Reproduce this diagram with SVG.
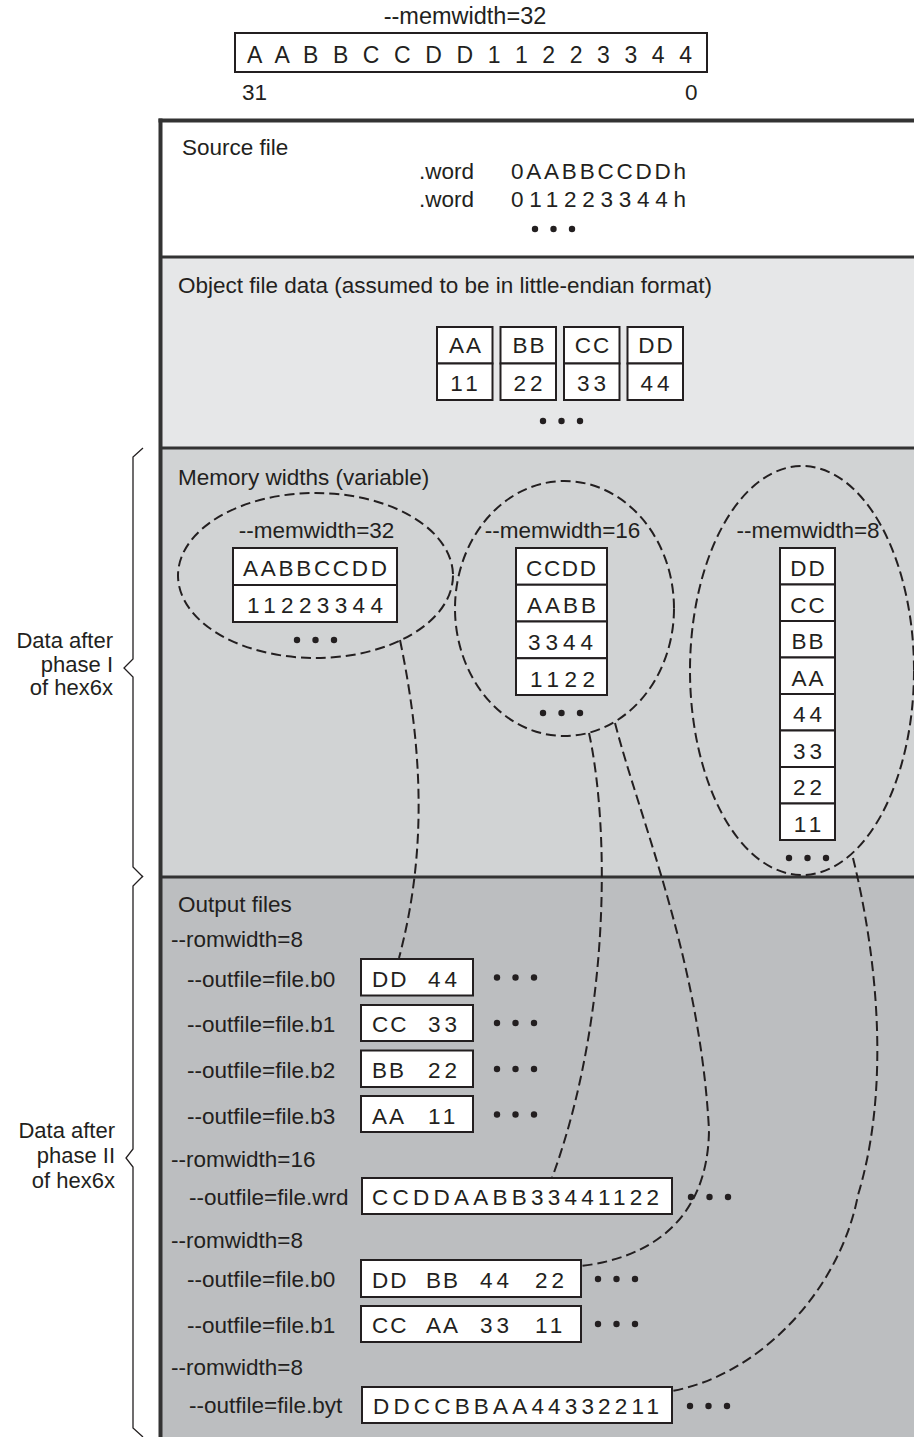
<svg xmlns="http://www.w3.org/2000/svg" xmlns:xlink="http://www.w3.org/1999/xlink" width="914" height="1437" viewBox="0 0 914 1437">
<style>
text { font-family: "Liberation Sans", Arial, Helvetica, sans-serif; fill: #231f20; font-size: 22.5px; }
.mid { text-anchor: middle; }
.end { text-anchor: end; }
.lb { font-size: 22px; }
.ls { letter-spacing: 2px; }
.dg { letter-spacing: 4px; }
.bx { fill: #ffffff; stroke: #231f20; stroke-width: 2; }
.dash { fill: none; stroke: #231f20; stroke-width: 2; stroke-dasharray: 10 5; }
.dots { fill: #231f20; }
.div { stroke: #333333; stroke-width: 3; }
.frame { stroke: #333333; stroke-width: 4; }
.brace { fill: none; stroke: #231f20; stroke-width: 1.3; stroke-linejoin: miter; }
</style>
<defs>
<g id="dots" class="dots"><circle cx="0" cy="0" r="3.2"/><circle cx="18.5" cy="0" r="3.2"/><circle cx="37" cy="0" r="3.2"/></g>
</defs>

<!-- header -->
<g id="header">
<text class="mid" x="465" y="24" style="font-size:23.5px">--memwidth=32</text>
<rect class="bx" x="235" y="33" width="472" height="39"/>
<text x="247" y="63" style="font-size:23px" textLength="445" lengthAdjust="spacing">A A B B C C D D 1 1 2 2 3 3 4 4</text>
<text x="242" y="100">31</text>
<text x="685" y="100">0</text>
</g>

<!-- sections -->
<g id="sections">
<rect x="160" y="120" width="770" height="137" fill="#ffffff"/>
<rect x="160" y="257" width="770" height="191" fill="#e6e7e8"/>
<rect x="160" y="448" width="770" height="429" fill="#d1d3d4"/>
<rect x="160" y="877" width="770" height="570" fill="#bcbec0"/>
<line class="div" x1="160" y1="257" x2="930" y2="257"/>
<line class="div" x1="160" y1="448" x2="930" y2="448"/>
<line class="div" x1="160" y1="877" x2="930" y2="877"/>
<line class="frame" x1="158.5" y1="120.5" x2="930" y2="120.5"/>
<line class="frame" x1="160.5" y1="118.5" x2="160.5" y2="1445"/>
</g>

<!-- source file -->
<g id="source-file">
<text x="182" y="155">Source file</text>
<text x="419" y="179">.word</text>
<text x="511" y="179" textLength="175" lengthAdjust="spacing">0AABBCCDDh</text>
<text x="419" y="207">.word</text>
<text x="511" y="207" textLength="175" lengthAdjust="spacing">011223344h</text>
<use xlink:href="#dots" x="535" y="229"/>
</g>

<!-- object file data -->
<g id="object-file">
<text x="178" y="293">Object file data (assumed to be in little-endian format)</text>
<rect class="bx" x="437" y="327" width="55.5" height="36.5"/>
<rect class="bx" x="437" y="363.5" width="55.5" height="36.5"/>
<rect class="bx" x="500.5" y="327" width="55.5" height="36.5"/>
<rect class="bx" x="500.5" y="363.5" width="55.5" height="36.5"/>
<rect class="bx" x="564" y="327" width="55.5" height="36.5"/>
<rect class="bx" x="564" y="363.5" width="55.5" height="36.5"/>
<rect class="bx" x="627.5" y="327" width="55.5" height="36.5"/>
<rect class="bx" x="627.5" y="363.5" width="55.5" height="36.5"/>
<text class="mid ls" x="466" y="353">AA</text>
<text class="mid dg" x="466" y="391">11</text>
<text class="mid ls" x="529.5" y="353">BB</text>
<text class="mid dg" x="530" y="391">22</text>
<text class="mid ls" x="593" y="353">CC</text>
<text class="mid dg" x="593.5" y="391">33</text>
<text class="mid ls" x="656.5" y="353">DD</text>
<text class="mid dg" x="657" y="391">44</text>
<use xlink:href="#dots" x="543" y="421"/>
</g>

<!-- memory widths -->
<g id="memory-widths">
<text x="178" y="485">Memory widths (variable)</text>
</g>

<g id="mem32">
<ellipse class="dash" cx="315.5" cy="575.5" rx="137.5" ry="82.5"/>
<text class="mid" x="316.5" y="538">--memwidth=32</text>
<rect class="bx" x="233" y="548" width="164" height="37"/>
<rect class="bx" x="233" y="585" width="164" height="37"/>
<text x="243" y="576" textLength="144" lengthAdjust="spacing">AABBCCDD</text>
<text x="247" y="613" textLength="136" lengthAdjust="spacing">11223344</text>
<use xlink:href="#dots" x="297" y="640"/>
</g>

<g id="mem16">
<ellipse class="dash" cx="564.5" cy="608.5" rx="109.5" ry="127.5"/>
<text class="mid" x="562.5" y="538">--memwidth=16</text>
<rect class="bx" x="516" y="548" width="91" height="36.75"/>
<rect class="bx" x="516" y="584.75" width="91" height="36.75"/>
<rect class="bx" x="516" y="621.5" width="91" height="36.75"/>
<rect class="bx" x="516" y="658.25" width="91" height="36.75"/>
<text x="526" y="576" textLength="70" lengthAdjust="spacing">CCDD</text>
<text x="527" y="613" textLength="69" lengthAdjust="spacing">AABB</text>
<text x="528" y="650" textLength="65" lengthAdjust="spacing">3344</text>
<text x="530" y="686.5" textLength="65" lengthAdjust="spacing">1122</text>
<use xlink:href="#dots" x="543" y="713"/>
</g>

<g id="mem8">
<ellipse class="dash" cx="802" cy="670.5" rx="112" ry="204.5"/>
<text class="mid" x="808" y="538">--memwidth=8</text>
<rect class="bx" x="780" y="548" width="55" height="36.5"/>
<rect class="bx" x="780" y="584.5" width="55" height="36.5"/>
<rect class="bx" x="780" y="621" width="55" height="36.5"/>
<rect class="bx" x="780" y="657.5" width="55" height="36.5"/>
<rect class="bx" x="780" y="694" width="55" height="36.5"/>
<rect class="bx" x="780" y="730.5" width="55" height="36.5"/>
<rect class="bx" x="780" y="767" width="55" height="36.5"/>
<rect class="bx" x="780" y="803.5" width="55" height="36.5"/>
<text class="mid ls" x="808.5" y="576">DD</text>
<text class="mid ls" x="808.5" y="612.5">CC</text>
<text class="mid ls" x="808.5" y="649">BB</text>
<text class="mid ls" x="808.5" y="685.5">AA</text>
<text class="mid dg" x="809.5" y="722">44</text>
<text class="mid dg" x="809.5" y="758.5">33</text>
<text class="mid dg" x="809.5" y="795">22</text>
<text class="mid dg" x="809.5" y="831.5">11</text>
<use xlink:href="#dots" x="789" y="858"/>
</g>

<!-- output files -->
<g id="output-files">
<text x="178" y="912">Output files</text>
<text x="171" y="947">--romwidth=8</text>
<text x="171" y="1167">--romwidth=16</text>
<text x="171" y="1248">--romwidth=8</text>
<text x="171" y="1375">--romwidth=8</text>
</g>

<g id="out-b0">
<text x="187" y="986.5">--outfile=file.b0</text>
<rect class="bx" x="361" y="959" width="112" height="36.5"/>
<text x="372" y="986.5"><tspan class="ls">DD</tspan><tspan class="dg" x="428">44</tspan></text>
<use xlink:href="#dots" x="497" y="977.5"/>
</g>
<g id="out-b1">
<text x="187" y="1032">--outfile=file.b1</text>
<rect class="bx" x="361" y="1005" width="112" height="36"/>
<text x="372" y="1032"><tspan class="ls">CC</tspan><tspan class="dg" x="428">33</tspan></text>
<use xlink:href="#dots" x="497" y="1023"/>
</g>
<g id="out-b2">
<text x="187" y="1078">--outfile=file.b2</text>
<rect class="bx" x="361" y="1050.5" width="112" height="36.5"/>
<text x="372" y="1078"><tspan class="ls">BB</tspan><tspan class="dg" x="428">22</tspan></text>
<use xlink:href="#dots" x="497" y="1069"/>
</g>
<g id="out-b3">
<text x="187" y="1123.5">--outfile=file.b3</text>
<rect class="bx" x="361" y="1096" width="112" height="36"/>
<text x="372" y="1123.5"><tspan class="ls">AA</tspan><tspan class="dg" x="428">11</tspan></text>
<use xlink:href="#dots" x="497" y="1114.5"/>
</g>
<g id="out-wrd">
<text x="189" y="1204.5">--outfile=file.wrd</text>
<rect class="bx" x="362" y="1178" width="310" height="36"/>
<text x="372" y="1205" textLength="287" lengthAdjust="spacing">CCDDAABB33441122</text>
<use xlink:href="#dots" x="691" y="1197"/>
</g>
<g id="out-b0-16">
<text x="187" y="1287">--outfile=file.b0</text>
<rect class="bx" x="361" y="1260" width="220" height="37"/>
<text x="372" y="1287.5"><tspan class="ls">DD</tspan><tspan class="ls" x="426">BB</tspan><tspan class="dg" x="480">44</tspan><tspan class="dg" x="535">22</tspan></text>
<use xlink:href="#dots" x="598" y="1279"/>
</g>
<g id="out-b1-16">
<text x="187" y="1333">--outfile=file.b1</text>
<rect class="bx" x="361" y="1306" width="220" height="36"/>
<text x="372" y="1333"><tspan class="ls">CC</tspan><tspan class="ls" x="426">AA</tspan><tspan class="dg" x="480">33</tspan><tspan class="dg" x="535">11</tspan></text>
<use xlink:href="#dots" x="598" y="1324"/>
</g>
<g id="out-byt">
<text x="189" y="1412.5">--outfile=file.byt</text>
<rect class="bx" x="362" y="1387" width="310" height="36"/>
<text x="373" y="1414" textLength="286" lengthAdjust="spacing">DDCCBBAA44332211</text>
<use xlink:href="#dots" x="690" y="1406"/>
</g>

<!-- connectors -->
<g id="connectors">
<path class="dash" d="M400,640 C425,760 425,860 399,958"/>
<path class="dash" d="M589,733 C610,830 610,1020 552,1178"/>
<path class="dash" d="M615,723 C640,820 700,960 709,1130 C708,1220 650,1258 581,1266"/>
<path class="dash" d="M853,858 C878,960 890,1090 858,1195 C840,1290 760,1375 672,1391"/>
</g>

<!-- braces -->
<g id="brace-phase1">
<path class="brace" d="M143,448 L133,457 L133,659 L124,668 L133,677 L133,867 L143,877"/>
<text class="end lb" x="113" y="648">Data after</text>
<text class="end lb" x="113" y="671.5">phase I</text>
<text class="end lb" x="113" y="695">of hex6x</text>
</g>
<g id="brace-phase2">
<path class="brace" d="M143,876 L133,886 L133,1149 L126,1158 L133,1167 L133,1428 L143,1437"/>
<text class="end lb" x="115" y="1138">Data after</text>
<text class="end lb" x="115" y="1163">phase II</text>
<text class="end lb" x="115" y="1188">of hex6x</text>
</g>
</svg>
